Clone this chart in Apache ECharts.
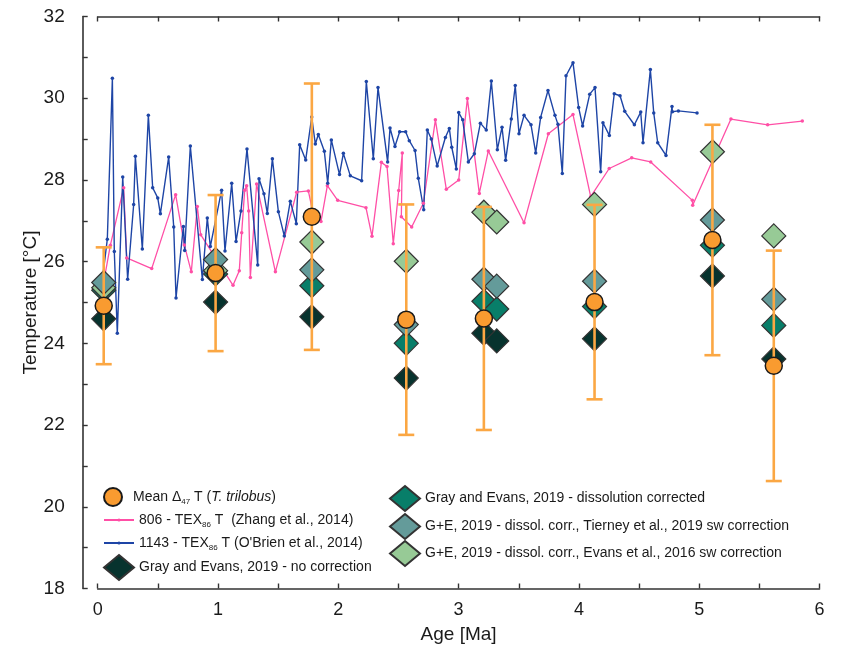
<!DOCTYPE html>
<html><head><meta charset="utf-8">
<script src="https://cdn.jsdelivr.net/npm/echarts@6/dist/echarts.min.js"></script>
<style>html,body{margin:0;padding:0;background:#fff}#c{width:843px;height:647px}</style>
</head><body><div id="c"></div>
<script>
// ---- axis ticks ----
const xTicks = [0, 1, 2, 3, 4, 5, 6];
const yTicks = [18, 20, 22, 24, 26, 28, 30, 32];

// ---- Site 806 TEX86 (Zhang et al., 2014) ----
const pinkAge = [0.05,0.105,0.216,0.241,0.449,0.648,0.720,0.778,0.828,0.856,1.125,1.177,1.197,1.222,1.238,1.255,1.269,1.321,1.477,1.654,1.751,1.784,1.856,1.909,1.995,2.230,2.280,2.358,2.405,2.457,2.502,2.532,2.524,2.610,2.707,2.807,2.898,3.001,3.073,3.172,3.247,3.544,3.746,3.951,4.098,4.252,4.439,4.597,4.943,4.946,5.264,5.569,5.857];
const pinkT   = [25.5,26.4,27.81,26.09,25.83,27.64,26.41,25.75,27.35,26.66,25.42,25.78,26.71,27.75,27.86,27.24,25.61,27.90,25.75,27.70,27.73,27.27,26.98,27.86,27.50,27.32,26.62,28.43,28.33,26.44,27.74,28.66,27.10,26.85,27.43,29.47,27.77,28.00,29.99,27.67,28.71,26.95,29.13,29.60,27.59,28.28,28.54,28.44,27.50,27.38,29.49,29.35,29.44];

// ---- Site 1143 TEX86 (O'Brien et al., 2014) ----
const blueAge = [0.03,0.080,0.122,0.138,0.163,0.208,0.249,0.299,0.313,0.371,0.421,0.457,0.499,0.521,0.590,0.632,0.651,0.712,0.723,0.770,0.870,0.911,0.936,1.030,1.058,1.114,1.150,1.191,1.241,1.330,1.341,1.382,1.410,1.452,1.502,1.551,1.601,1.651,1.679,1.729,1.779,1.809,1.834,1.884,1.912,1.942,2.010,2.042,2.100,2.194,2.233,2.291,2.330,2.410,2.430,2.471,2.510,2.560,2.590,2.638,2.665,2.710,2.740,2.773,2.822,2.890,2.923,2.943,2.981,3.001,3.034,3.081,3.131,3.181,3.230,3.272,3.322,3.361,3.391,3.438,3.471,3.502,3.544,3.602,3.641,3.682,3.743,3.801,3.826,3.862,3.893,3.951,3.998,4.031,4.090,4.134,4.181,4.200,4.253,4.294,4.342,4.381,4.461,4.514,4.533,4.594,4.622,4.655,4.724,4.774,4.777,4.827,4.982];
const blueT   = [25.35,26.55,30.49,26.25,24.25,28.07,25.57,27.40,28.58,26.31,29.58,27.81,27.56,27.17,28.56,26.85,25.11,26.86,26.27,28.83,25.56,27.07,26.37,27.75,26.26,27.92,26.49,27.24,28.76,25.92,28.03,27.66,27.18,28.52,27.22,26.63,27.48,26.93,28.86,28.49,29.54,28.88,29.11,28.70,27.92,28.98,28.13,28.65,28.10,27.98,30.41,28.52,30.26,28.44,29.27,28.82,29.18,29.18,28.96,28.72,28.04,27.27,29.22,29.00,28.34,29.04,29.26,28.80,28.27,29.65,29.47,28.44,28.64,29.39,29.22,30.42,28.74,29.29,28.48,29.49,30.31,29.13,29.58,29.35,28.66,29.53,30.19,29.58,29.36,28.16,30.55,30.87,29.77,29.32,30.10,30.26,28.20,29.40,29.09,30.11,30.06,29.68,29.35,29.66,28.91,30.70,29.64,28.91,28.60,29.80,29.67,29.69,29.64];

// ---- Mean clumped-isotope temperatures with error ----
const meanAge = [0.05, 0.98, 1.78, 2.565, 3.21, 4.13, 5.11, 5.62];
const meanT   = [24.92, 25.72, 27.10, 24.58, 24.61, 25.01, 26.53, 23.45];
const meanErr = [1.43, 1.91, 3.26, 2.82, 2.73, 2.38, 2.82, 2.82];

// ---- Gray and Evans 2019 ----
const geAge    = [0.05, 0.98, 1.78, 2.565, 3.21, 3.317, 4.13, 5.11, 5.62];
const geNoCorr = [24.60, 25.01, 24.65, 23.15, 24.25, 24.06, 24.11, 25.65, 23.62];
const geDissol = [25.30, 25.70, 25.41, 24.00, 25.03, 24.84, 24.90, 26.40, 24.44];
const geTierney= [25.49, 26.05, 25.80, 24.46, 25.57, 25.40, 25.52, 27.02, 25.08];
const geEvans  = [25.36, 25.78, 26.48, 26.01, 27.21, 26.97, 27.40, 28.69, 26.63];

const N_MEAN = 'Mean D47 T (T. trilobus)';
const N_806 = '806 - TEX86 T (Zhang et al., 2014)';
const N_1143 = "1143 - TEX86 T (O'Brien et al., 2014)";
const N_NC = 'Gray and Evans, 2019 - no correction';
const N_DC = 'Gray and Evans, 2019 - dissolution corrected';
const N_TI = 'G+E, 2019 - dissol. corr., Tierney et al., 2019 sw correction';
const N_EV = 'G+E, 2019 - dissol. corr., Evans et al., 2016 sw correction';

const labelsRich = {};
labelsRich[N_MEAN] = '{n|Mean Δ}{s|47}{n| T (}{i|T. trilobus}{n|)}';
labelsRich[N_806] = '{n|806 - TEX}{s|86}{n| T  (Zhang et al., 2014)}';
labelsRich[N_1143] = "{n|1143 - TEX}{s|86}{n| T (O'Brien et al., 2014)}";

const FONT = "'Liberation Sans', Arial, sans-serif";
const rich = {
  n: {fontSize: 14, fontFamily: FONT, color: '#1a1a1a', lineHeight: 18},
  i: {fontSize: 14, fontFamily: FONT, color: '#1a1a1a', lineHeight: 18, fontStyle: 'italic'},
  s: {fontSize: 8, fontFamily: FONT, color: '#1a1a1a', verticalAlign: 'bottom'}
};

const zip = (a, b) => a.map((v, i) => [v, b[i]]);
const errData = meanAge.map((a, i) => [a, meanT[i] - meanErr[i], meanT[i] + meanErr[i]]);

const DIAMOND = 24;
const dBorder = {borderColor: '#333', borderWidth: 1.2, opacity: 1};

function mkLegend(name, left, top, ih) {
  return {
    data: [name], left: left, top: top, itemWidth: 30, itemHeight: ih, itemGap: 0,
    orient: 'vertical', selectedMode: false, padding: 0,
    textStyle: {fontSize: 14, fontFamily: FONT, color: '#1a1a1a', rich: rich},
    formatter: function (nm) { return labelsRich[nm] || nm; }
  };
}

const axisLine = {show: true, onZero: false, lineStyle: {color: '#333', width: 1.6}};
const tickStyle = {color: '#333', width: 1.4};
const chart = echarts.init(document.getElementById('c'), null, {renderer: 'canvas'});
chart.setOption({
  animation: false,
  grid: {left: 97.7, right: 23.5, top: 16.5, bottom: 58.5, containLabel: false, outerBoundsMode: 'none'},
  xAxis: [{
    type: 'value', min: xTicks[0], max: xTicks[xTicks.length - 1], interval: 1,
    position: 'bottom',
    name: 'Age [Ma]', nameLocation: 'middle', nameGap: 37, nameMoveOverlap: false,
    nameTextStyle: {fontSize: 19, fontFamily: FONT, color: '#1a1a1a'},
    axisLine: axisLine,
    axisTick: {show: true, inside: true, length: 5, lineStyle: tickStyle},
    minorTick: {show: true, splitNumber: 2, length: 5, lineStyle: tickStyle},
    axisLabel: {fontSize: 18, fontFamily: FONT, color: '#1a1a1a', margin: 13},
    splitLine: {show: false}
  }, {
    type: 'value', min: xTicks[0], max: xTicks[xTicks.length - 1], interval: 1,
    position: 'top',
    axisLine: axisLine,
    axisTick: {show: true, inside: true, length: 5, lineStyle: tickStyle},
    minorTick: {show: true, splitNumber: 2, length: 5, lineStyle: tickStyle},
    axisLabel: {show: false},
    splitLine: {show: false}
  }],
  yAxis: [{
    type: 'value', min: yTicks[0], max: yTicks[yTicks.length - 1], interval: 2,
    offset: 15,
    name: 'Temperature [°C]', nameLocation: 'middle', nameGap: 42, nameMoveOverlap: false,
    nameTextStyle: {fontSize: 19, fontFamily: FONT, color: '#1a1a1a'},
    axisLine: axisLine,
    axisTick: {show: true, inside: true, length: 5, lineStyle: tickStyle},
    minorTick: {show: true, splitNumber: 2, length: 5, lineStyle: tickStyle},
    axisLabel: {fontSize: 19, fontFamily: FONT, color: '#1a1a1a', margin: 18},
    splitLine: {show: false}
  }],
  legend: [
    mkLegend(N_MEAN, 103, 487, 18),
    mkLegend(N_806, 103, 513, 4),
    mkLegend(N_1143, 103, 536, 4),
    mkLegend(N_NC, 103, 554, 25),
    mkLegend(N_DC, 389, 485, 25),
    mkLegend(N_TI, 389, 513, 25),
    mkLegend(N_EV, 389, 540, 25)
  ],
  series: [
    {name: N_806, type: 'line', data: zip(pinkAge, pinkT), symbol: 'circle', symbolSize: 3.5,
     lineStyle: {color: '#ff4fa6', width: 1.3}, itemStyle: {color: '#ff4fa6'}, z: 2},
    {name: N_1143, type: 'line', data: zip(blueAge, blueT), symbol: 'circle', symbolSize: 3.5,
     lineStyle: {color: '#1e45a6', width: 1.4}, itemStyle: {color: '#1e45a6'}, z: 2},
    {name: N_NC, type: 'scatter', data: zip(geAge, geNoCorr), symbol: 'diamond', symbolSize: DIAMOND,
     symbolKeepAspect: true, itemStyle: Object.assign({color: '#07332e'}, dBorder), z: 3},
    {name: N_DC, type: 'scatter', data: zip(geAge, geDissol), symbol: 'diamond', symbolSize: DIAMOND,
     symbolKeepAspect: true, itemStyle: Object.assign({color: '#087e69'}, dBorder), z: 3},
    {name: N_EV, type: 'scatter', data: zip(geAge, geEvans), symbol: 'diamond', symbolSize: DIAMOND,
     symbolKeepAspect: true, itemStyle: Object.assign({color: '#97ca96'}, dBorder), z: 3},
    {name: N_TI, type: 'scatter', data: zip(geAge, geTierney), symbol: 'diamond', symbolSize: DIAMOND,
     symbolKeepAspect: true, itemStyle: Object.assign({color: '#649b9a'}, dBorder), z: 3},
    {name: 'err', type: 'custom', data: errData, encode: {x: 0, y: [1, 2]}, z: 4,
     renderItem: function (params, api) {
       const x = api.value(0), lo = api.value(1), hi = api.value(2);
       const a = api.coord([x, lo]), b = api.coord([x, hi]);
       const hw = 8, st = {stroke: '#fba743', lineWidth: 2.6};
       return {type: 'group', children: [
         {type: 'line', shape: {x1: a[0], y1: a[1], x2: b[0], y2: b[1]}, style: st},
         {type: 'line', shape: {x1: a[0] - hw, y1: a[1], x2: a[0] + hw, y2: a[1]}, style: st},
         {type: 'line', shape: {x1: b[0] - hw, y1: b[1], x2: b[0] + hw, y2: b[1]}, style: st}
       ]};
     }},
    {name: N_MEAN, type: 'scatter', data: zip(meanAge, meanT), symbol: 'circle', symbolSize: 17,
     symbolKeepAspect: true, itemStyle: {color: '#f99b30', borderColor: '#1a1a1a', borderWidth: 1.5, opacity: 1}, z: 5}
  ]
});
</script></body></html>
